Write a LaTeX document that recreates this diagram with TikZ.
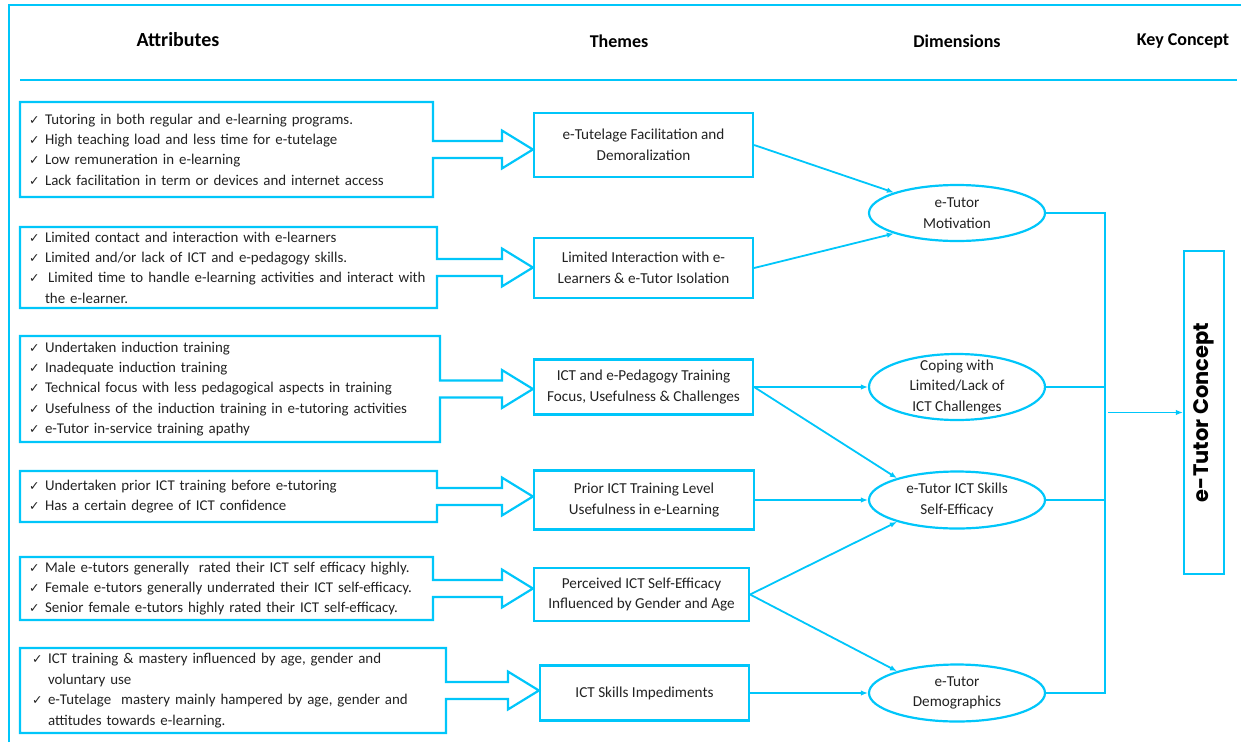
\documentclass[tikz,border=0pt]{standalone}
\usepackage{fontspec}
\setmainfont{Carlito}
\newfontfamily\checkfont{DejaVu Sans}
\newfontfamily\keyfont{Poppins}
\usetikzlibrary{calc,shapes.geometric,arrows.meta}

\definecolor{cyanline}{RGB}{0,198,250}
\definecolor{inktext}{RGB}{34,34,34}

% body text, check marks and list lines
\newcommand\bodysize{\fontsize{14.9}{20.4}\selectfont}
\newcommand\boxsize{\fontsize{15.2}{20.6}\selectfont}
\newcommand\ck{\makebox[16pt][l]{\checkfont\fontsize{12.5}{12}\selectfont ✓}}
\newcommand\ckline[1]{\ck\mbox{#1}}
\newcommand\contline[1]{\hspace*{16pt}\mbox{#1}}

% attribute box joined to a block arrow that points at a theme box
\newcommand\attrarrow[2]{%
  \draw[blockline] (#1.north west) -- (#1.north east)
    -- ($(#1.east)+(0,-8.5)$)
    -- ($(#2.west |- #1.east)+(-31,-8.5)$)
    -- ($(#2.west |- #1.east)+(-31,-19)$)
    -- (#2.west |- #1.east)
    -- ($(#2.west |- #1.east)+(-31,19)$)
    -- ($(#2.west |- #1.east)+(-31,8.5)$)
    -- ($(#1.east)+(0,8.5)$)
    -- (#1.south east) -- (#1.south west) -- cycle;}

\tikzset{
  frame/.style={draw=cyanline, line width=2pt},
  blockline/.style={draw=cyanline, line width=2.2pt, line join=miter},
  head/.style={inner sep=0pt, text=black, font=\bfseries\fontsize{18}{22}\selectfont},
  attr/.style={rectangle, inner xsep=9pt, inner ysep=0pt, outer sep=0pt,
    text width=#1-18pt, minimum width=#1, align=left, text=inktext, font=\bodysize},
  theme/.style={rectangle, draw=cyanline, line width=2.2pt, inner sep=0pt,
    align=center, text=inktext, font=\boxsize},
  dim/.style={ellipse, draw=cyanline, line width=2.2pt, inner sep=0pt,
    minimum width=176pt, minimum height=56pt},
  dimtext/.style={align=center, text=inktext, font=\boxsize, inner sep=0pt},
  keybox/.style={rectangle, draw=cyanline, line width=2.2pt, inner sep=0pt,
    minimum width=40pt, minimum height=323pt},
  link/.style={draw=cyanline, line width=1.8pt, -{Latex[length=7pt,width=5.5pt]}},
  plain/.style={draw=cyanline, line width=1.8pt},
}

\begin{document}
\begin{tikzpicture}[x=1pt, y=-1pt]
\useasboundingbox (0,0) rectangle (1241,742);

% frame and header rule
\draw[frame] (9,742) -- (9,5) -- (1241,5);
\draw[frame] (20,80) -- (1237,80);

% column headings
\node[head, font=\bfseries\fontsize{20}{24}\selectfont] (hattr) at (178,40) {Attributes};
\node[head] (htheme) at (619,41) {Themes};
\node[head] (hdim) at (957,41) {Dimensions};
\node[head] (hkey) at (1183,41) {Key Concept};

% attribute lists
\node[attr=413pt, minimum height=95pt] (a1) at (226.5,149.5) {%
  \ckline{Tutoring in both regular and e-learning programs.}\\
  \ckline{High teaching load and less time for e-tutelage}\\
  \ckline{Low remuneration in e-learning}\\
  \ckline{Lack facilitation in term or devices and internet access}};
\node[attr=417pt, minimum height=81pt] (a2) at (228.5,267.5) {%
  \ckline{Limited contact and interaction with e-learners}\\
  \ckline{Limited and/or lack of ICT and e-pedagogy skills.}\\
  \ckline{\hspace{3pt}Limited time to handle e-learning activities and interact with}\\
  \contline{the e-learner.}};
\node[attr=420pt, minimum height=106pt] (a3) at (230,389) {%
  \ckline{Undertaken induction training}\\
  \ckline{Inadequate induction training}\\
  \ckline{Technical focus with less pedagogical aspects in training}\\
  \ckline{Usefulness of the induction training in e-tutoring activities}\\
  \ckline{e-Tutor in-service training apathy}};
\node[attr=417pt, minimum height=51pt] (a4) at (228.5,496.5) {%
  \ckline{Undertaken prior ICT training before e-tutoring}\\
  \ckline{Has a certain degree of ICT confidence}};
\node[attr=413pt, minimum height=63pt] (a5) at (226.5,588.5) {%
  \ckline{Male e-tutors generally\ \ rated their ICT self efficacy highly.}\\
  \ckline{Female e-tutors generally underrated their ICT self-efficacy.}\\
  \ckline{Senior female e-tutors highly rated their ICT self-efficacy.}};
\node[attr=420pt, minimum height=85pt, inner xsep=12pt] (a6) at (233,690.5) {%
  \ckline{ICT training \& mastery influenced by age, gender and}\\
  \contline{voluntary use}\\
  \ckline{e-Tutelage\ \ mastery mainly hampered by age, gender and}\\
  \contline{attitudes towards e-learning.}};

% themes
\node[theme, minimum width=219pt, minimum height=64pt] (t1) at (643.5,145)
  {e-Tutelage Facilitation and\\Demoralization};
\node[theme, minimum width=219pt, minimum height=60pt] (t2) at (643.5,268)
  {Limited Interaction with e-\\Learners \& e-Tutor Isolation};
\node[theme, minimum width=219pt, minimum height=55pt] (t3) at (643.5,387)
  {ICT and e-Pedagogy Training\\Focus, Usefulness \& Challenges};
\node[theme, minimum width=220pt, minimum height=59pt] (t4) at (644,500)
  {Prior ICT Training Level\\Usefulness in e-Learning};
\node[theme, minimum width=215pt, minimum height=53pt] (t5) at (641.5,594.5)
  {Perceived ICT Self-Efficacy\\Influenced by Gender and Age};
\node[theme, minimum width=209pt, minimum height=55pt] (t6) at (644.5,693)
  {ICT Skills Impediments};

% block arrows from attributes to themes
\attrarrow{a1}{t1}
\attrarrow{a2}{t2}
\attrarrow{a3}{t3}
\attrarrow{a4}{t4}
\attrarrow{a5}{t5}
\attrarrow{a6}{t6}

% dimensions
\node[dim, label={[dimtext]center:{e-Tutor\\Motivation}}] (e1) at (957,213) {};
\node[dim, minimum height=66pt, label={[dimtext]center:{Coping with\\Limited/Lack of\\ICT Challenges}}] (e2) at (957,387) {};
\node[dim, minimum height=57pt, label={[dimtext]center:{e-Tutor ICT Skills\\Self-Efficacy}}] (e3) at (957,500) {};
\node[dim, minimum height=57pt, label={[dimtext]center:{e-Tutor\\Demographics}}] (e4) at (957,693) {};

% key concept
\node[keybox, label={[rotate=90, inner sep=0pt, text=black, font=\keyfont\bfseries\fontsize{21}{24}\selectfont]center:e-Tutor Concept}] (key) at (1204,412.5) {};

% theme to dimension links
\draw[link] (t1.east) -- (e1.162);
\draw[link] (t2.east) -- (e1.198);
\draw[link] (t3.east) -- (e2.west);
\draw[link] (t3.east) -- (e3.160);
\draw[link] (t4.east) -- (e3.west);
\draw[link] (t5.east) -- (e3.200);
\draw[link] (t5.east) -- (e4.160);
\draw[link] (t6.east) -- (e4.west);

% collector bus into the key concept
\coordinate (bus) at (1105,0);
\draw[plain] (e1.east) -- (e1.east -| bus) -- (e4.east -| bus) -- (e4.east);
\draw[plain] (e2.east) -- (e2.east -| bus);
\draw[plain] (e3.east) -- (e3.east -| bus);
\draw[link] ($(key.west -| bus)+(3,0)$) -- (key.west);
\end{tikzpicture}
\end{document}
